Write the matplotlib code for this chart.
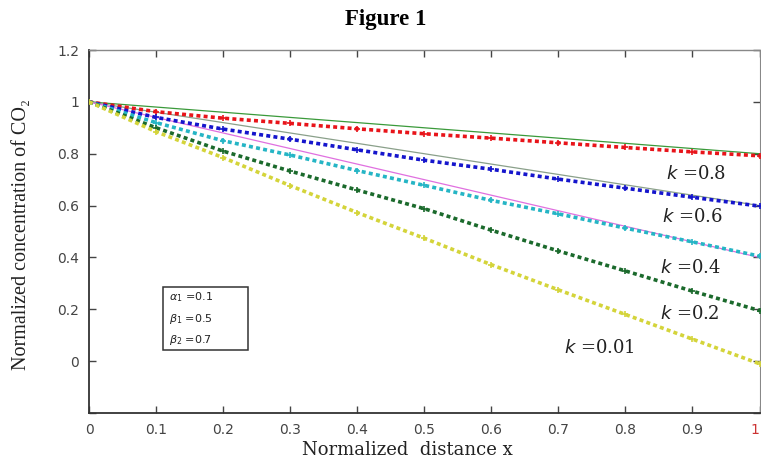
import matplotlib
matplotlib.use("Agg")
import matplotlib.pyplot as plt
from matplotlib.patches import Rectangle

# ---- data ----
x = [0.0, 0.1, 0.2, 0.3, 0.4, 0.5, 0.6, 0.7, 0.8, 0.9, 1.0]
k_labels = ["0.8", "0.6", "0.4", "0.2", "0.01"]
c_k08 = [1.0, 0.962, 0.937, 0.917, 0.896, 0.877, 0.860, 0.842, 0.824, 0.807, 0.792]
c_k06 = [1.0, 0.940, 0.895, 0.856, 0.815, 0.775, 0.740, 0.702, 0.667, 0.632, 0.598]
c_k04 = [1.0, 0.920, 0.850, 0.795, 0.735, 0.678, 0.620, 0.568, 0.513, 0.460, 0.405]
c_k02 = [1.0, 0.900, 0.810, 0.733, 0.660, 0.588, 0.505, 0.425, 0.348, 0.270, 0.195]
c_k001 = [1.0, 0.885, 0.785, 0.677, 0.573, 0.474, 0.372, 0.275, 0.180, 0.085, -0.010]

# thin reference lines
x_thin = [0.0, 1.0]
thin_k08 = [1.0, 0.80]
thin_k06 = [1.0, 0.60]
thin_k04 = [1.0, 0.40]

xticks = [0, 0.1, 0.2, 0.3, 0.4, 0.5, 0.6, 0.7, 0.8, 0.9, 1.0]
xticklabels = ["0", "0.1", "0.2", "0.3", "0.4", "0.5", "0.6", "0.7", "0.8", "0.9", "1"]
yticks = [-0.2, 0, 0.2, 0.4, 0.6, 0.8, 1.0, 1.2]
yticklabels = ["", "0", "0.2", "0.4", "0.6", "0.8", "1", "1.2"]

param_lines = ["$\\alpha_1$ =0.1", "$\\beta_1$ =0.5", "$\\beta_2$ =0.7"]

# label positions (data coords)
label_pos = [(0.861, 0.72), (0.855, 0.556), (0.851, 0.36), (0.852, 0.18), (0.709, 0.05)]

fig = plt.figure(figsize=(7.61, 4.65), dpi=100)
ax = fig.add_axes([89 / 761, 1 - 413 / 465, 670.5 / 761, (413 - 50) / 465])

thin_colors = ["#3a9a3a", "#8aa08a", "#e070e0"]
for yy, col in zip([thin_k08, thin_k06, thin_k04], thin_colors):
    ax.plot(x_thin, yy, color=col, lw=0.9, zorder=2)

series = [c_k08, c_k06, c_k04, c_k02, c_k001]
colors = ["#e8141a", "#1515cc", "#25b5c5", "#1b6a2c", "#d4d43a"]
for yy, col in zip(series, colors):
    ax.plot(x, yy, color=col, lw=2.6, linestyle=(0, (1.1, 0.9)), zorder=3)
    ax.plot(x, yy, color=col, lw=0, marker="+", ms=5, mew=1.2, zorder=3)

for (px, py), lab in zip(label_pos, k_labels):
    ax.text(px, py, r"$k$ =" + lab, fontsize=13, family="DejaVu Serif",
            va="center", ha="left", color="#222222")

# parameter box
ax.add_patch(Rectangle((0.110, 0.174), 0.127, 0.173, transform=ax.transAxes,
                       fc="white", ec="#333333", lw=1.1, zorder=5))
for i, line in enumerate(param_lines):
    ax.text(0.120, 0.318 - i * 0.059, line, transform=ax.transAxes,
            fontsize=8, family="DejaVu Sans", va="center", ha="left",
            color="#222222", zorder=6)

ax.set_xlim(0, 1.0)
ax.set_ylim(-0.2, 1.2)
ax.set_xticks(xticks)
ax.set_xticklabels(xticklabels)
ax.set_yticks(yticks)
ax.set_yticklabels(yticklabels)
ax.tick_params(direction="in", length=5, width=1, colors="#444444",
               labelcolor="#444444", labelsize=10, top=True, right=True, pad=7)
for t in ax.get_xticklabels() + ax.get_yticklabels():
    t.set_family("DejaVu Sans")
ax.get_xticklabels()[-1].set_horizontalalignment("right")
ax.get_xticklabels()[-1].set_color("#cc3333")

for side in ["left", "bottom"]:
    ax.spines[side].set_color("#333333")
    ax.spines[side].set_linewidth(1.3)
ax.spines["top"].set_color("#888888")
ax.spines["top"].set_linewidth(1.0)
ax.spines["right"].set_color("#888888")

fig.text(407 / 761, 1 - 450 / 465, "Normalized  distance x", fontsize=13,
         family="DejaVu Serif", ha="center", va="center", color="#222222")
fig.text(22 / 761, 1 - 235 / 465, "Normalized concentration of CO\u2082",
         fontsize=14.5, family=["Liberation Serif", "DejaVu Serif"], rotation=90,
         ha="center", va="center", color="#222222")
fig.text(386 / 761, 1 - 20 / 465, "Figure 1", fontsize=16.5, fontweight="bold",
         family="Liberation Serif", ha="center", va="center")

fig.savefig("out.png", dpi=100)
